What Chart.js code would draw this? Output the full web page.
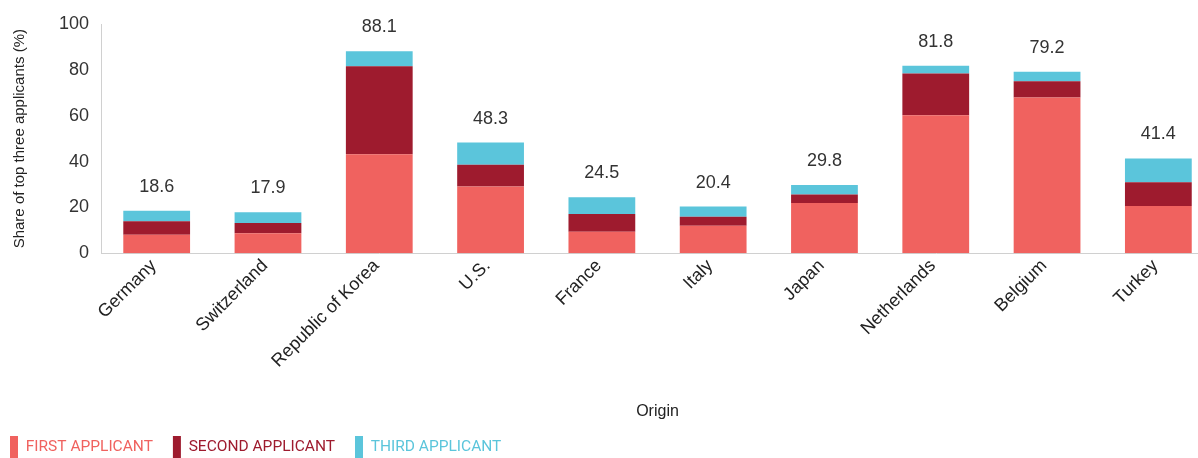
<!DOCTYPE html>
<html><head><meta charset="utf-8">
<script src="https://cdn.jsdelivr.net/npm/chart.js@4"></script>
<style>
html,body{margin:0;padding:0;background:#fff;overflow:hidden;}
#wrap{width:1214px;height:458px;position:relative;}
</style></head>
<body><div id="wrap"><canvas id="c"></canvas></div>
<script>
const categories = ["Germany","Switzerland","Republic of Korea","U.S.","France","Italy","Japan","Netherlands","Belgium","Turkey"];
const firstApplicant  = [8.1, 8.8, 43.2, 29.1, 9.4, 12.0, 21.9, 60.2, 68.0, 20.6];
const secondApplicant = [5.9, 4.4, 38.4, 9.5, 7.8, 4.0, 3.8, 18.2, 7.0, 10.4];
const thirdApplicant  = [4.6, 4.7, 6.5, 9.7, 7.3, 4.4, 4.1, 3.4, 4.2, 10.4];
const totals = [18.6, 17.9, 88.1, 48.3, 24.5, 20.4, 29.8, 81.8, 79.2, 41.4];
const yTicks = [0, 20, 40, 60, 80, 100];

const colors = ["#F0625F", "#9E1B2E", "#5BC5DB"];
const FONT = "'Liberation Sans', Arial, sans-serif";
const LEGEND_FONT = "Roboto, 'Liberation Sans', Arial, sans-serif";

const totalsPlugin = {
  id: 'totals',
  afterDatasetsDraw(chart) {
    const ctx = chart.ctx;
    const meta = chart.getDatasetMeta(2);
    ctx.save();
    ctx.font = "18px " + FONT;
    ctx.fillStyle = "#333";
    ctx.textAlign = "center";
    ctx.textBaseline = "middle";
    meta.data.forEach((bar, i) => {
      ctx.fillText(totals[i].toFixed(1), bar.x, chart.scales.y.getPixelForValue(totals[i]) - 24);
    });
    ctx.restore();
  }
};

new Chart(document.getElementById('c'), {
  type: 'bar',
  data: {
    labels: categories,
    datasets: [
      {label: "FIRST APPLICANT", data: firstApplicant, backgroundColor: colors[0]},
      {label: "SECOND APPLICANT", data: secondApplicant, backgroundColor: colors[1]},
      {label: "THIRD APPLICANT", data: thirdApplicant, backgroundColor: colors[2]}
    ]
  },
  options: {
    responsive: true,
    maintainAspectRatio: false,
    animation: false,
    layout: {padding: {top: 24, right: 0, left: -10, bottom: -10}},
    datasets: {bar: {barPercentage: 0.6, categoryPercentage: 1.0}},
    scales: {
      x: {
        stacked: true,
        grid: {display: false, drawTicks: false},
        border: {display: true, color: "#d0d0d0"},
        ticks: {color: "#222", font: {family: FONT, size: 18}, maxRotation: 45, minRotation: 45, padding: 2, labelOffset: -3},
        title: {display: true, text: "Origin", color: "#222", font: {family: FONT, size: 16}, padding: {top: 28, bottom: -5}}
      },
      y: {
        stacked: true,
        min: 0, max: 100,
        afterBuildTicks(axis) { axis.ticks = yTicks.map(v => ({value: v})); },
        grid: {display: false, drawTicks: false},
        border: {display: true, color: "#d0d0d0"},
        ticks: {color: "#333", font: {family: FONT, size: 18}, padding: 12},
        title: {display: true, text: "Share of top three applicants (%)", color: "#222", font: {family: FONT, size: 15}, padding: {top: 21, bottom: 18}}
      }
    },
    plugins: {
      legend: {
        position: 'bottom',
        align: 'start',
        labels: {
          boxWidth: 8, boxHeight: 22, padding: 20,
          font: {family: LEGEND_FONT, size: 15.5},
          generateLabels(chart) {
            return chart.data.datasets.map((ds, i) => ({
              text: ds.label, fillStyle: ds.backgroundColor, strokeStyle: ds.backgroundColor,
              lineWidth: 0, fontColor: ds.backgroundColor, datasetIndex: i, hidden: false
            }));
          }
        }
      },
      tooltip: {enabled: false}
    }
  },
  plugins: [totalsPlugin]
});
</script></body></html>
